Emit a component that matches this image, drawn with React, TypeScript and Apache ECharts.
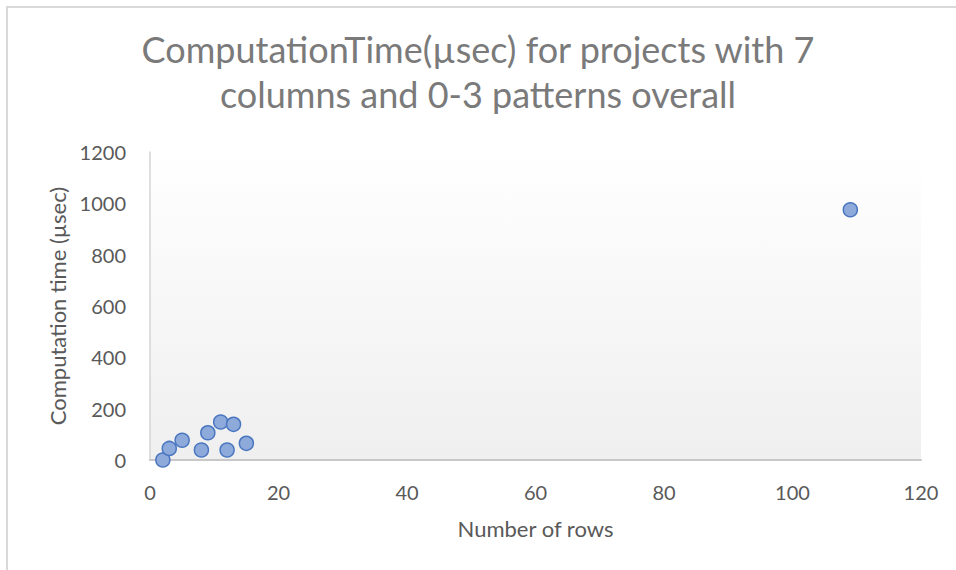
import React, { useEffect, useRef } from "react";
import * as echarts from "echarts";

const titleText = "ComputationTime(µsec) for projects with 7\ncolumns and 0-3 patterns overall";
const xAxisName = "Number of rows";
const yAxisName = "Computation time (µsec)";
const rowsValues = [2, 3, 5, 8, 9, 11, 12, 13, 15, 109];
const timeValues = [0, 45, 77, 39, 106, 148, 39, 139, 65, 975];

export default function App() {
  const ref = useRef<HTMLDivElement>(null);
  useEffect(() => {
    if (!ref.current) return;
    const chart = echarts.init(ref.current, null, { renderer: "svg" });
    const font = "Lato";
    chart.setOption({
      animation: false,
      backgroundColor: "#ffffff",
      textStyle: { fontFamily: font },
      title: {
        text: titleText,
        left: "center",
        top: 21,
        textStyle: {
          fontFamily: font,
          fontSize: 36,
          fontWeight: "normal",
          color: "#7a7a7a",
          lineHeight: 45,
        },
      },
      graphic: [
        {
          type: "polyline",
          shape: { points: [[7, 570], [7, 7], [956, 7]] },
          style: { stroke: "#d9d9d9", lineWidth: 2, fill: null },
          silent: true,
        },
      ],
      grid: {
        left: 150,
        right: 35,
        top: 152,
        bottom: 110,
        show: true,
        borderWidth: 0,
        backgroundColor: new echarts.graphic.LinearGradient(0, 0, 0, 1, [
          { offset: 0, color: "#ffffff" },
          { offset: 1, color: "#efefef" },
        ]),
      },
      xAxis: {
        type: "value",
        min: 0,
        max: 120,
        interval: 20,
        name: xAxisName,
        nameLocation: "middle",
        nameGap: 57,
        nameTextStyle: { fontFamily: font, fontSize: 22, color: "#595959" },
        axisLine: { show: true, lineStyle: { color: "#c8c8c8", width: 2 } },
        axisTick: { show: false },
        splitLine: { show: false },
        axisLabel: {
          fontFamily: font,
          fontSize: 20,
          color: "#595959",
          margin: 22,
          formatter: (v: number) => String(v),
        },
      },
      yAxis: {
        type: "value",
        min: 0,
        max: 1200,
        interval: 200,
        name: yAxisName,
        nameLocation: "middle",
        nameGap: 81,
        nameTextStyle: { fontFamily: font, fontSize: 22, color: "#595959" },
        axisLine: { show: true, lineStyle: { color: "#d4d4d4", width: 1.5 } },
        axisTick: { show: false },
        splitLine: { show: false },
        axisLabel: {
          fontFamily: font,
          fontSize: 20,
          color: "#595959",
          margin: 24,
          formatter: (v: number) => String(v),
        },
      },
      series: [
        {
          type: "scatter",
          data: rowsValues.map((x, i) => [x, timeValues[i]]),
          symbol: "circle",
          symbolSize: 14,
          itemStyle: {
            color: "#8eaadb",
            borderColor: "#4a76c0",
            borderWidth: 1.5,
            opacity: 1,
          },
        },
      ],
    });
    return () => chart.dispose();
  }, []);
  return (
    <div
      ref={ref}
      style={{ position: "absolute", left: 0, top: 0, width: 956, height: 570 }}
    />
  );
}
